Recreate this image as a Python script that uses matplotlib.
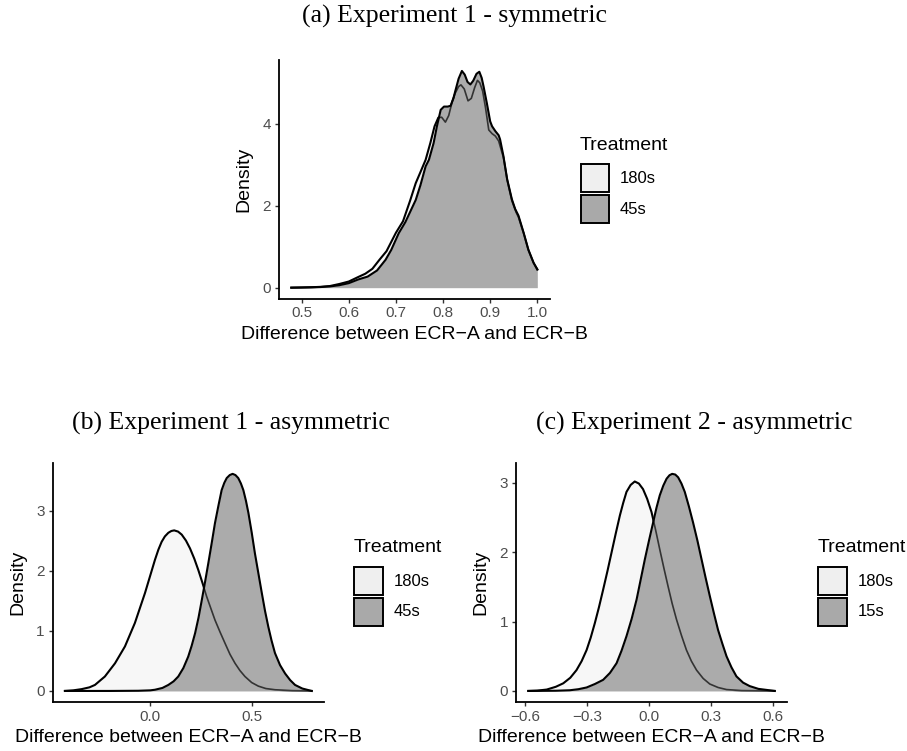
import matplotlib
matplotlib.use("Agg")
import matplotlib.pyplot as plt
from matplotlib.patches import Rectangle

plt.rcParams['font.family'] = ['Liberation Sans', 'DejaVu Sans']

W, H = 907, 751

# ---------------- data ----------------
# (a) Experiment 1 - symmetric
a180_x = [0.478, 0.50, 0.52, 0.54, 0.56, 0.58, 0.60, 0.62, 0.635, 0.65, 0.665, 0.68, 0.70, 0.715,
          0.73, 0.742, 0.752, 0.763, 0.773, 0.782, 0.79, 0.797, 0.805, 0.812, 0.819, 0.826, 0.833,
          0.838, 0.845, 0.853, 0.86, 0.867, 0.873, 0.878, 0.884, 0.89, 0.897, 0.904, 0.911, 0.918,
          0.928, 0.936, 0.946, 0.955, 0.96, 0.971, 0.981, 0.992, 1.0]
a180_y = [0.0, 0.005, 0.01, 0.02, 0.04, 0.09, 0.15, 0.26, 0.34, 0.46, 0.68, 0.89, 1.34, 1.62,
          2.12, 2.55, 2.82, 3.12, 3.53, 3.94, 4.15, 4.16, 4.04, 4.20, 4.52, 4.75, 4.91,
          4.95, 4.85, 4.56, 4.62, 4.88, 5.06, 5.00, 4.80, 4.40, 3.85, 3.76, 3.70, 3.58,
          3.18, 2.62, 2.12, 1.84, 1.72, 1.32, 0.91, 0.60, 0.45]
a45_x = [0.478, 0.50, 0.52, 0.54, 0.56, 0.58, 0.60, 0.62, 0.64, 0.66, 0.678, 0.69, 0.706, 0.72,
         0.742, 0.752, 0.763, 0.77, 0.78, 0.787, 0.795, 0.802, 0.81, 0.816, 0.822, 0.826, 0.833,
         0.84, 0.846, 0.852, 0.858, 0.864, 0.871, 0.877, 0.882, 0.886, 0.893, 0.90, 0.904, 0.911,
         0.918, 0.921, 0.928, 0.936, 0.946, 0.953, 0.96, 0.971, 0.981, 0.992, 1.0]
a45_y = [0.0, 0.003, 0.008, 0.015, 0.03, 0.06, 0.11, 0.20, 0.27, 0.42, 0.68, 0.92, 1.33, 1.60,
         2.14, 2.50, 2.96, 3.12, 3.53, 3.94, 4.34, 4.42, 4.42, 4.44, 4.62, 4.80, 5.10,
         5.29, 5.20, 5.02, 4.96, 5.05, 5.22, 5.27, 5.12, 4.91, 4.50, 4.06, 3.94, 3.82,
         3.72, 3.62, 3.22, 2.65, 2.16, 1.92, 1.76, 1.34, 0.93, 0.61, 0.44]

# (b) Experiment 1 - asymmetric
b180_x = [-0.421, -0.38, -0.339, -0.30, -0.273, -0.224, -0.174, -0.125, -0.076, -0.026, 0.023,
          0.04, 0.056, 0.072, 0.089, 0.104, 0.118, 0.137, 0.155, 0.176, 0.196, 0.217, 0.237,
          0.258, 0.278, 0.299, 0.319, 0.344, 0.369, 0.393, 0.418, 0.442, 0.467, 0.50, 0.533,
          0.57, 0.615, 0.70, 0.796]
b180_y = [0.0, 0.01, 0.03, 0.06, 0.10, 0.24, 0.46, 0.74, 1.13, 1.63, 2.18,
          2.35, 2.48, 2.57, 2.63, 2.66, 2.67, 2.65, 2.60, 2.50, 2.37, 2.20, 2.01,
          1.79, 1.57, 1.37, 1.18, 0.98, 0.79, 0.61, 0.46, 0.34, 0.24, 0.14, 0.08,
          0.04, 0.02, 0.005, 0.0]
b45_x = [-0.421, -0.2, -0.059, 0.0, 0.023, 0.06, 0.089, 0.115, 0.138, 0.163, 0.187, 0.204, 0.221,
         0.238, 0.254, 0.27, 0.286, 0.303, 0.319, 0.336, 0.352, 0.365, 0.377, 0.392, 0.406, 0.42,
         0.434, 0.447, 0.459, 0.472, 0.484, 0.50, 0.516, 0.533, 0.550, 0.566, 0.582, 0.598, 0.615,
         0.64, 0.665, 0.69, 0.714, 0.75, 0.796]
b45_y = [0.0, 0.0, 0.003, 0.01, 0.02, 0.05, 0.10, 0.16, 0.24, 0.38, 0.57, 0.75, 0.96,
         1.22, 1.51, 1.81, 2.12, 2.46, 2.79, 3.08, 3.34, 3.46, 3.54, 3.59, 3.61, 3.59,
         3.54, 3.45, 3.34, 3.16, 2.96, 2.64, 2.29, 1.96, 1.63, 1.33, 1.07, 0.84, 0.63,
         0.43, 0.29, 0.18, 0.10, 0.04, 0.0]

# (c) Experiment 2 - asymmetric
c180_x = [-0.583, -0.54, -0.494, -0.45, -0.414, -0.38, -0.350, -0.325, -0.301, -0.281, -0.261,
          -0.241, -0.221, -0.20, -0.180, -0.160, -0.140, -0.124, -0.108, -0.088, -0.068, -0.048,
          -0.028, -0.008, 0.013, 0.033, 0.053, 0.073, 0.093, 0.113, 0.134, 0.158, 0.182, 0.206,
          0.231, 0.263, 0.295, 0.335, 0.376, 0.45, 0.609]
c180_y = [0.0, 0.005, 0.02, 0.06, 0.11, 0.19, 0.30, 0.43, 0.59, 0.77, 0.98,
          1.21, 1.46, 1.73, 2.00, 2.27, 2.53, 2.71, 2.87, 2.97, 3.02, 2.99,
          2.91, 2.77, 2.58, 2.32, 2.04, 1.77, 1.51, 1.26, 1.03, 0.80, 0.59, 0.43,
          0.30, 0.18, 0.10, 0.05, 0.02, 0.005, 0.0]
c15_x = [-0.583, -0.45, -0.382, -0.341, -0.301, -0.261, -0.221, -0.188, -0.156, -0.132, -0.108,
         -0.083, -0.059, -0.039, -0.019, 0.001, 0.021, 0.037, 0.053, 0.07, 0.086, 0.10, 0.113,
         0.128, 0.142, 0.158, 0.174, 0.194, 0.214, 0.235, 0.255, 0.275, 0.295, 0.315, 0.335,
         0.356, 0.376, 0.40, 0.424, 0.456, 0.488, 0.53, 0.609]
c15_y = [0.0, 0.003, 0.01, 0.025, 0.05, 0.10, 0.16, 0.26, 0.40, 0.58, 0.79,
         1.04, 1.32, 1.61, 1.90, 2.17, 2.43, 2.64, 2.82, 2.96, 3.06, 3.11, 3.13,
         3.12, 3.08, 2.99, 2.87, 2.66, 2.43, 2.17, 1.90, 1.63, 1.37, 1.12, 0.88,
         0.68, 0.50, 0.34, 0.21, 0.12, 0.07, 0.03, 0.0]

titles = ["(a) Experiment 1 - symmetric", "(b) Experiment 1 - asymmetric", "(c) Experiment 2 - asymmetric"]
legend_labels = [["180s", "45s"], ["180s", "45s"], ["180s", "15s"]]
xticks = [[0.5, 0.6, 0.7, 0.8, 0.9, 1.0], [0.0, 0.5], [-0.6, -0.3, 0.0, 0.3, 0.6]]
xticklabels = [["0.5", "0.6", "0.7", "0.8", "0.9", "1.0"], ["0.0", "0.5"],
               ["\u22120.6", "\u22120.3", "0.0", "0.3", "0.6"]]
yticks = [[0, 2, 4], [0, 1, 2, 3], [0, 1, 2, 3]]
xlabel = "Difference between ECR\u2212A and ECR\u2212B"
ylabel = "Density"

series = [(a180_x, a180_y, a45_x, a45_y), (b180_x, b180_y, b45_x, b45_y), (c180_x, c180_y, c15_x, c15_y)]

# ---------------- layout (pixels) ----------------
rects_px = [(279, 60.1, 549.6, 298.5), (52.6, 463, 324, 701.8), (516, 463, 787, 701.8)]
title_px = [(455, 16), (231, 423), (694, 423)]
legend_px = [(580, 145), (353.5, 547.5), (817.5, 547.5)]

LIGHT = '#F7F7F7'
DARK = '#ABABAB'

fig = plt.figure(figsize=(W / 100, H / 100), dpi=100)

def fx(x):
    return x / W

def fy(y):
    return 1 - y / H

for i, (x1, y1, x2, y2) in enumerate(series):
    l, t, r, b = rects_px[i]
    ax = fig.add_axes([fx(l), fy(b), (r - l) / W, (b - t) / H])
    xmin = min(min(x1), min(x2)); xmax = max(max(x1), max(x2))
    ymax = max(max(y1), max(y2))
    ex = 0.05 * (xmax - xmin)
    ax.set_xlim(xmin - ex, xmax + ex)
    ax.set_ylim(-0.05 * ymax, 1.05 * ymax)

    ax.fill_between(x1, 0, y1, color=LIGHT, lw=0, zorder=1)
    ax.plot(x1, y1, color='black', lw=1.5, zorder=2, solid_joinstyle='round')
    poly = ax.fill_between(x2, 0, y2, color=DARK, lw=0, zorder=3)
    inner, = ax.plot(x1, y1, color='#333333', lw=1.2, zorder=4, solid_joinstyle='round')
    inner.set_clip_path(poly.get_paths()[0], ax.transData)
    ax.plot(x2, y2, color='black', lw=1.5, zorder=5, solid_joinstyle='round')

    for s in ['top', 'right']:
        ax.spines[s].set_visible(False)
    for s in ['left', 'bottom']:
        ax.spines[s].set_linewidth(1.3)
        ax.spines[s].set_color('black')
    ax.set_xticks(xticks[i])
    ax.set_xticklabels(xticklabels[i])
    ax.set_yticks(yticks[i])
    ax.set_yticklabels([str(v) for v in yticks[i]])
    ax.tick_params(axis='both', length=3.2, width=1.0, color='#333333',
                   labelcolor='#4D4D4D', labelsize=11, pad=2.5)
    ax.set_facecolor('none')

    # axis titles
    fig.text(fx((l + r) / 2), fy(b + 36), xlabel, ha='center', va='center', fontsize=14)
    fig.text(fx(l - 35), fy((t + b) / 2), ylabel, ha='center', va='center', rotation=90, fontsize=14)

    # panel title
    tx, ty = title_px[i]
    fig.text(fx(tx), fy(ty), titles[i], ha='center', va='center', fontsize=18.5,
             family=['Liberation Serif', 'DejaVu Serif'])

    # legend
    lx, ly = legend_px[i]
    fig.text(fx(lx), fy(ly), "Treatment", ha='left', va='center', fontsize=14)
    key_cols = ['#EFEFEF', '#A9A9A9']
    for k in range(2):
        top = ly + 19 + k * 31
        fig.add_artist(Rectangle((fx(lx + 0.5), fy(top + 28)), 28.5 / W, 28 / H,
                                 transform=fig.transFigure, facecolor=key_cols[k],
                                 edgecolor='black', lw=1.4))
        fig.text(fx(lx + 40), fy(top + 14.5), legend_labels[i][k], ha='left', va='center',
                 fontsize=12)

fig.savefig("out.png", dpi=100)
